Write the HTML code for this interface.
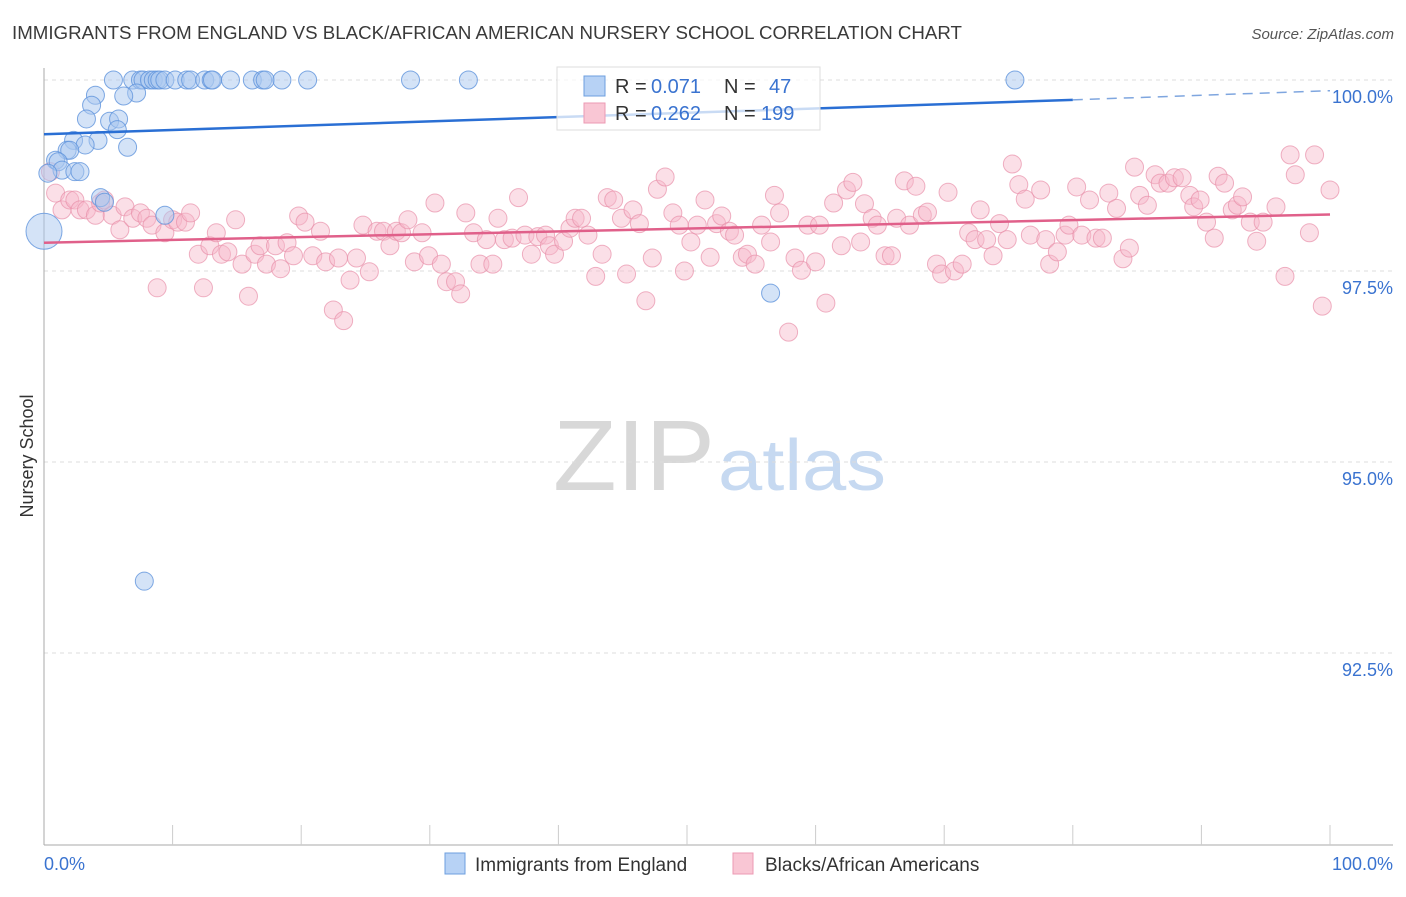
<!DOCTYPE html>
<html><head><meta charset="utf-8"><style>
body{margin:0;background:#fff;font-family:"Liberation Sans",sans-serif}
svg text{font-family:"Liberation Sans",sans-serif}
</style></head><body>
<svg id="chart" width="1406" height="892" viewBox="0 0 1406 892" xmlns="http://www.w3.org/2000/svg">
<text x="12" y="39" font-size="18" fill="#3a3a3a" textLength="950" lengthAdjust="spacingAndGlyphs">IMMIGRANTS FROM ENGLAND VS BLACK/AFRICAN AMERICAN NURSERY SCHOOL CORRELATION CHART</text>
<text x="1394" y="39" font-size="15" fill="#555" text-anchor="end" font-style="italic">Source: ZipAtlas.com</text>
<g>
<text x="553" y="490" font-size="100" fill="#d8d8d8" font-family="Liberation Serif, serif" textLength="162" lengthAdjust="spacingAndGlyphs">ZIP</text>
<text x="718" y="490" font-size="72" fill="#c6d9f1" textLength="168" lengthAdjust="spacingAndGlyphs">atlas</text>
</g>
<g id="grid"></g>
<g id="axes"></g>
<g id="pts"></g>
<g id="trends"></g>
<text transform="translate(33,456) rotate(-90)" font-size="18" fill="#333" text-anchor="middle">Nursery School</text>
<g>
<rect x="557" y="67" width="263" height="63" fill="#fff" fill-opacity="0.75" stroke="#ddd"/>
<rect x="584" y="76" width="21" height="20" fill="#b7d2f5" stroke="#6d9fdf"/>
<rect x="584" y="103" width="21" height="20" fill="#f9c6d4" stroke="#ec9ab3"/>
<text x="615" y="93" font-size="20" fill="#333">R =</text>
<text x="651" y="93" font-size="20" fill="#3a73d0">0.071</text>
<text x="724" y="93" font-size="20" fill="#333">N =</text>
<text x="769" y="93" font-size="20" fill="#3a73d0">47</text>
<text x="615" y="120" font-size="20" fill="#333">R =</text>
<text x="651" y="120" font-size="20" fill="#3a73d0">0.262</text>
<text x="724" y="120" font-size="20" fill="#333">N =</text>
<text x="761" y="120" font-size="20" fill="#3a73d0">199</text>
</g>
<g>
<rect x="445" y="853" width="20" height="21" fill="#b7d2f5" stroke="#6d9fdf"/>
<text x="475" y="871" font-size="19" fill="#333">Immigrants from England</text>
<rect x="733" y="853" width="20" height="21" fill="#f9c6d4" stroke="#ec9ab3"/>
<text x="765" y="871" font-size="19" fill="#333">Blacks/African Americans</text>
</g>
</svg>
<script>
const yTicks=[100,97.5,95,92.5];
const yTickLabels=["100.0%","97.5%","95.0%","92.5%"];
const blueX=[5.4,6.9,7.5,7.7,8.2,8.5,8.8,9.0,9.4,10.2,11.1,11.4,12.5,13.0,13.1,14.5,16.2,17.0,17.2,18.5,20.5,28.5,33.0,75.5,4.0,7.2,6.2,3.7,3.3,5.1,5.8,5.7,4.2,2.3,3.2,6.5,1.8,2.0,0.9,1.1,1.4,2.4,2.8,4.4,4.7,9.4,7.8,56.5,0.3];
const blueY=[100,100,100,100,100,100,100,100,100,100,100,100,100,100,100,100,100,100,100,100,100,100,100,100,99.80,99.83,99.79,99.67,99.49,99.46,99.49,99.35,99.21,99.21,99.15,99.12,99.08,99.08,98.95,98.93,98.82,98.80,98.80,98.46,98.40,98.23,93.44,97.21,98.78];
const blueBigX=[0];
const blueBigY=[98.02];
const pinkX=[0.5,0.9,1.4,2.0,2.4,2.8,3.3,4.0,4.4,4.7,5.3,5.9,6.3,6.9,7.5,8.0,8.4,8.8,9.4,10.0,10.4,11.0,11.4,12.0,12.4,12.9,13.4,13.8,14.3,14.9,15.4,15.9,16.4,16.8,17.3,18.0,18.4,18.9,19.4,19.8,20.3,20.9,21.5,21.9,22.5,22.9,23.3,23.8,24.3,24.8,25.3,25.9,26.4,26.9,27.4,27.8,28.3,28.8,29.4,29.9,30.4,30.9,31.3,32.0,32.4,32.8,33.4,33.9,34.4,34.9,35.3,35.8,36.4,36.9,37.4,37.9,38.4,39.0,39.3,39.7,40.4,40.9,41.3,41.8,42.3,42.9,43.4,43.8,44.3,44.9,45.3,45.8,46.3,46.8,47.3,47.7,48.3,48.9,49.4,49.8,50.3,50.8,51.4,51.8,52.3,52.7,53.3,53.7,54.3,54.7,55.3,55.8,56.5,56.8,57.2,57.9,58.4,58.9,59.4,60.0,60.3,60.8,61.4,62.0,62.4,62.9,63.5,63.8,64.4,64.8,65.4,65.9,66.3,66.9,67.3,67.8,68.3,68.7,69.4,69.8,70.3,70.8,71.4,71.9,72.4,72.8,73.3,73.8,74.3,74.9,75.3,75.8,76.3,76.7,77.5,77.9,78.2,78.8,79.4,79.7,80.3,80.7,81.3,81.8,82.3,82.8,83.4,83.9,84.4,84.8,85.2,85.8,86.4,86.8,87.4,87.9,88.5,89.1,89.4,89.9,90.4,91.0,91.3,91.8,92.4,92.8,93.2,93.8,94.3,94.8,95.8,96.5,96.9,97.3,98.4,98.8,99.4,100.0];
const pinkY=[98.80,98.52,98.30,98.43,98.43,98.30,98.30,98.23,98.39,98.43,98.23,98.04,98.34,98.19,98.26,98.19,98.10,97.28,98.00,98.17,98.14,98.14,98.26,97.72,97.28,97.83,98.00,97.72,97.75,98.17,97.59,97.17,97.72,97.83,97.59,97.83,97.53,97.87,97.70,98.22,98.14,97.70,98.02,97.62,96.99,97.67,96.85,97.38,97.67,98.10,97.49,98.02,98.02,97.83,98.02,98.00,98.17,97.62,98.00,97.70,98.39,97.59,97.36,97.36,97.20,98.26,98.00,97.59,97.91,97.59,98.19,97.91,97.93,98.46,97.97,97.72,97.95,97.97,97.83,97.72,97.89,98.06,98.19,98.19,97.97,97.43,97.72,98.46,98.43,98.19,97.46,98.30,98.12,97.11,97.67,98.57,98.73,98.26,98.10,97.50,97.88,98.10,98.43,97.68,98.12,98.22,98.02,97.97,97.68,97.72,97.59,98.10,97.88,98.49,98.26,96.70,97.67,97.51,98.10,97.62,98.10,97.08,98.39,97.83,98.56,98.66,97.88,98.38,98.19,98.10,97.70,97.70,98.19,98.68,98.10,98.61,98.23,98.27,97.59,97.46,98.53,97.50,97.59,98.00,97.91,98.30,97.91,97.70,98.12,97.91,98.90,98.63,98.44,97.97,98.56,97.91,97.59,97.75,97.97,98.10,98.60,97.97,98.43,97.93,97.93,98.52,98.32,97.66,97.80,98.86,98.49,98.36,98.76,98.65,98.65,98.72,98.72,98.49,98.34,98.43,98.14,97.93,98.74,98.65,98.30,98.36,98.47,98.14,97.89,98.14,98.34,97.43,99.02,98.76,98.00,99.02,97.04,98.56];
const blueTrendX=[0,80,100];
const blueTrendY=[99.29,99.74,99.86];
const pinkTrendX=[0,100];
const pinkTrendY=[97.87,98.24];

const NS="http://www.w3.org/2000/svg";
const X0=44,X1=1330,Y100=80,PX_PER_PCT=76.4;
function sx(v){return X0+(X1-X0)*v/100;}
function sy(v){return Y100+(100-v)*PX_PER_PCT;}
function mk(tag,attrs,parent){const e=document.createElementNS(NS,tag);for(const k in attrs)e.setAttribute(k,attrs[k]);parent.appendChild(e);return e;}
const grid=document.getElementById('grid'),axes=document.getElementById('axes'),pts=document.getElementById('pts'),tr=document.getElementById('trends');
yTicks.forEach((t,i)=>{
  const l=mk('line',{x1:X0,x2:1393,y1:sy(t),y2:sy(t),stroke:'#dcdcdc','stroke-dasharray':'4,4'},grid);
  
  
  const tx=mk('text',{x:1393,y:sy(t)+23,'font-size':18,fill:'#3a73d0','text-anchor':'end'},grid);
  tx.textContent=yTickLabels[i];
  
  
});
const ax=mk('line',{x1:X0,x2:X0,y1:68,y2:845,stroke:'#aaa'},axes);


const bx=mk('line',{x1:X0,x2:1393,y1:845,y2:845,stroke:'#aaa'},axes);


for(let i=1;i<=10;i++){
  const t=mk('line',{x1:sx(i*10),x2:sx(i*10),y1:825,y2:845,stroke:'#ccc'},axes);
  
  
}
const xl0=mk('text',{x:44,y:870,'font-size':18,fill:'#3a73d0'},axes);xl0.textContent='0.0%';


const xl1=mk('text',{x:1393,y:870,'font-size':18,fill:'#3a73d0','text-anchor':'end'},axes);xl1.textContent='100.0%';


pinkX.forEach((v,i)=>{
  const c=mk('circle',{cx:sx(v),cy:sy(pinkY[i]),r:9,fill:'#f7b8ca','fill-opacity':0.45,stroke:'#e890aa','stroke-opacity':0.7},pts);
  
  
});
blueX.forEach((v,i)=>{
  const c=mk('circle',{cx:sx(v),cy:sy(blueY[i]),r:9,fill:'#a9c8f0','fill-opacity':0.5,stroke:'#5f93dc','stroke-opacity':0.8},pts);
  
  
});
blueBigX.forEach((v,i)=>{
  const c=mk('circle',{cx:sx(v),cy:sy(blueBigY[i]),r:18,fill:'#a9c8f0','fill-opacity':0.5,stroke:'#5f93dc','stroke-opacity':0.8},pts);
  
  
});
const bl=mk('line',{x1:sx(blueTrendX[0]),y1:sy(blueTrendY[0]),x2:sx(blueTrendX[1]),y2:sy(blueTrendY[1]),stroke:'#2a6fd4','stroke-width':2.5},tr);


const bd=mk('line',{x1:sx(blueTrendX[1]),y1:sy(blueTrendY[1]),x2:sx(blueTrendX[2]),y2:sy(blueTrendY[2]),stroke:'#7fa6df','stroke-width':1.5,'stroke-dasharray':'10,7'},tr);


const pl=mk('line',{x1:sx(pinkTrendX[0]),y1:sy(pinkTrendY[0]),x2:sx(pinkTrendX[1]),y2:sy(pinkTrendY[1]),stroke:'#e0608a','stroke-width':2.5},tr);


</script>
</body></html>
